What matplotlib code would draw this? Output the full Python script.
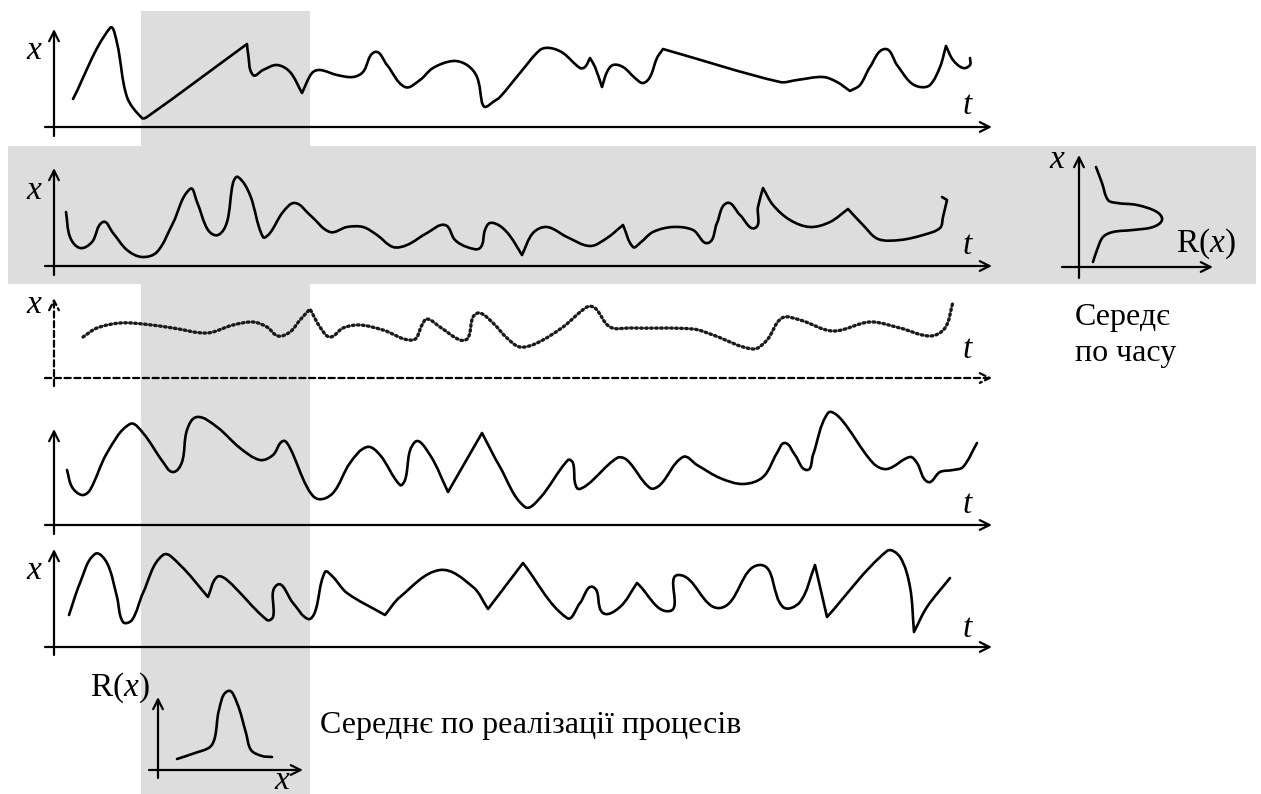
import numpy as np
import matplotlib.pyplot as plt
from matplotlib.path import Path
from matplotlib.patches import PathPatch

plt.rcParams['font.family'] = ['Liberation Serif', 'DejaVu Serif']
plt.rcParams['mathtext.fontset'] = 'custom'
plt.rcParams['mathtext.rm'] = 'Liberation Serif'
plt.rcParams['mathtext.it'] = 'Liberation Serif:italic'

W, H = 1261, 794
GRAY = '#dddddd'

# realisations x(t): t positions and heights above the t axis
t1 = [73, 110, 117, 127, 142, 147, 247, 248, 253, 263, 277, 290, 302, 312, 320, 337,
      353, 363, 375, 387, 405, 420, 433, 453, 467, 477, 482, 485, 493, 500, 520, 540,
      550, 563, 580, 585, 590, 595, 602, 607, 613, 623, 635, 643, 650, 657, 663, 780,
      797, 823, 837, 850, 860, 870, 885, 897, 910, 920, 930, 940, 946, 953, 963, 970, 970]
x1 = [28, 99, 84, 30, 9, 10, 83, 74, 52, 57, 62, 55, 34, 54, 57, 52,
      50, 55, 75, 62, 40, 47, 59, 66, 62, 50, 24, 20, 25, 30, 54, 77,
      79, 74, 59, 60, 69, 60, 40, 55, 62, 60, 49, 44, 50, 69, 78, 45,
      47, 50, 45, 36, 42, 60, 78, 62, 45, 40, 42, 60, 81, 67, 59, 62, 69]

t2 = [66, 70, 80, 92, 103, 113, 127, 142, 157, 173, 190, 197, 208, 218, 227, 233,
      238, 250, 263, 270, 283, 295, 310, 330, 347, 363, 377, 393, 407, 427, 445, 455,
      467, 480, 485, 490, 500, 510, 522, 533, 547, 567, 590, 607, 623, 633, 640, 653,
      673, 693, 708, 717, 727, 740, 755, 758, 763, 773, 790, 810, 830, 848, 863, 878,
      900, 923, 940, 943, 947, 942]
x2 = [54, 29, 18, 24, 44, 33, 16, 9, 14, 43, 77, 64, 36, 31, 44, 83,
      89, 71, 29, 33, 54, 63, 51, 34, 39, 39, 31, 19, 21, 33, 41, 26,
      19, 18, 36, 43, 40, 30, 11, 33, 39, 29, 20, 28, 41, 19, 23, 34,
      39, 36, 23, 43, 63, 51, 38, 59, 78, 61, 46, 39, 44, 57, 41, 27,
      26, 31, 38, 49, 66, 69]

t3 = [83, 97, 120, 143, 173, 207, 233, 253, 267, 278, 290, 300, 310, 320, 330, 343,
      360, 383, 413, 422, 427, 440, 460, 468, 473, 480, 493, 507, 520, 537, 563, 587,
      595, 610, 630, 693, 713, 753, 767, 782, 800, 833, 870, 900, 930, 945, 953]
x3 = [41, 50, 55, 54, 50, 45, 53, 56, 51, 42, 46, 58, 69, 51, 41, 50,
      53, 48, 38, 53, 59, 51, 38, 40, 61, 65, 55, 40, 31, 35, 51, 71,
      70, 51, 50, 49, 43, 29, 38, 60, 58, 47, 56, 50, 42, 50, 76]

t4 = [67, 72, 82, 90, 107, 130, 143, 163, 173, 182, 187, 197, 217, 240, 260, 273,
      283, 290, 307, 318, 333, 350, 367, 380, 400, 405, 415, 430, 448, 482, 500, 525,
      540, 568, 573, 577, 587, 617, 627, 650, 660, 683, 697, 720, 743, 763, 777, 785,
      795, 807, 813, 828, 840, 873, 887, 910, 917, 928, 940, 953, 963, 977]
x4 = [55, 38, 30, 35, 72, 101, 92, 63, 53, 63, 95, 108, 98, 77, 65, 70,
      84, 77, 38, 26, 32, 62, 78, 70, 40, 45, 83, 70, 33, 92, 58, 18,
      27, 65, 62, 37, 40, 67, 65, 37, 40, 68, 60, 47, 41, 48, 72, 82,
      70, 55, 70, 112, 107, 62, 56, 68, 62, 43, 53, 55, 58, 82]

t5 = [69, 80, 95, 107, 117, 123, 132, 143, 163, 180, 208, 217, 227, 267, 273, 277,
      293, 308, 315, 325, 333, 347, 385, 400, 440, 473, 488, 523, 567, 580, 593, 603,
      620, 637, 670, 678, 720, 760, 783, 800, 815, 827, 887, 900, 910, 914, 927, 950]
x5 = [32, 64, 93, 84, 50, 25, 27, 54, 92, 82, 50, 70, 67, 27, 30, 62,
      44, 28, 35, 75, 70, 54, 32, 50, 77, 60, 38, 84, 29, 44, 60, 34,
      40, 64, 36, 72, 39, 82, 40, 45, 82, 30, 96, 90, 60, 15, 40, 69]

# t positions where a trace has a kink instead of a smooth turn
kinks1 = [247, 302, 482, 590, 602, 663, 850, 946]
kinks2 = [522, 623, 763, 848, 947]
kinks3 = [310, 953]
kinks4 = [448, 482]
kinks5 = [208, 385, 488, 523, 637, 815, 827, 914]

# distributions R(x)
r_time = [17, 23, 29, 38, 58, 78, 83, 74, 54, 34, 24, 18, 14]
x_time = [100, 84, 67, 64, 62, 55, 47, 40, 37, 35, 30, 17, 5]
x_ens = [19, 37, 52, 57, 61, 70, 79, 88, 93, 104, 114]
r_ens = [11, 17, 23, 33, 60, 79, 67, 37, 20, 14, 13]

fig = plt.figure(figsize=(W / 100, H / 100), dpi=100)
ax = fig.add_axes([0, 0, 1, 1])
ax.set_xlim(0, W)
ax.set_ylim(H, 0)
ax.axis('off')

# shaded strips
ax.add_patch(plt.Rectangle((141, 11), 169, H - 11, color=GRAY, lw=0, zorder=0))
ax.add_patch(plt.Rectangle((8, 146), 1248, 138, color=GRAY, lw=0, zorder=0))


def unit(d):
    L = np.hypot(*d)
    return d / L if L > 0 else d * 0


def smooth_path(xs, ys, kinks=()):
    # bezier path through the points, tangents from the neighbours
    p = np.column_stack([xs, ys]).astype(float)
    n = len(p)
    t_in = np.zeros_like(p)
    t_out = np.zeros_like(p)
    for i in range(n):
        a, b = p[max(i - 1, 0)], p[min(i + 1, n - 1)]
        if xs[i] in kinks and 0 < i < n - 1:
            t_in[i] = unit(p[i] - a)
            t_out[i] = unit(b - p[i])
        else:
            t_in[i] = t_out[i] = unit(b - a)
    verts = [p[0]]
    codes = [Path.MOVETO]
    for i in range(n - 1):
        seg = np.hypot(*(p[i + 1] - p[i])) / 3
        verts += [p[i] + t_out[i] * seg, p[i + 1] - t_in[i + 1] * seg, p[i + 1]]
        codes += [Path.CURVE4] * 3
    return Path(verts, codes)


def curve(xs, ys, kinks=(), **kw):
    ax.add_patch(PathPatch(smooth_path(xs, ys, kinks), fill=False, capstyle='round',
                           joinstyle='round', **kw))


def arrow(x0, y0, x1, y1, ls='-'):
    ax.annotate('', xy=(x1, y1), xytext=(x0, y0),
                arrowprops=dict(arrowstyle='->,head_length=0.7,head_width=0.35',
                                lw=1.6, color='black', linestyle=ls,
                                shrinkA=0, shrinkB=0))


def italic(x, y, s):
    ax.text(x, y, s, fontsize=24, style='italic', ha='center', va='center')


panels = [(127, 29, 136, t1, x1, kinks1, True), (266, 168, 275, t2, x2, kinks2, True),
          (378, 298, 386, t3, x3, kinks3, True), (525, 429, 534, t4, x4, kinks4, False),
          (647, 549, 655, t5, x5, kinks5, True)]
label_y = [51, 191, 305, None, 571]
t_y = [106, 246, 350, 505, 629]

for i, (base, top, bottom, tt, xx, kk, has_x) in enumerate(panels):
    ls = (0, (2.8, 1.6)) if i == 2 else '-'
    arrow(45, base, 992, base, ls)
    arrow(54, bottom, 54, top, ls)
    ys = [base - v for v in xx]
    if i == 2:
        curve(tt, ys, kk, edgecolor='#1a1a1a', lw=2.4, linestyle=(0, (0.5, 1.0)))
    else:
        curve(tt, ys, kk, edgecolor='black', lw=1.9)
    if has_x:
        italic(34, label_y[i], 'x')
    italic(967, t_y[i], 't')

# time-average distribution
arrow(1079, 278, 1079, 155)
arrow(1062, 267, 1213, 267)
curve([1079 + r for r in r_time], [267 - v for v in x_time], edgecolor='black', lw=1.9)
italic(1057, 160, 'x')
ax.text(1206, 244, r'$\mathrm{R}(x)$', fontsize=24, ha='center', va='center')
ax.text(1075, 318, 'Середє', fontsize=23, ha='left', va='center')
ax.text(1075, 353, 'по часу', fontsize=23, ha='left', va='center')

# ensemble-average distribution
arrow(158, 778, 158, 697)
arrow(149, 770, 303, 770)
curve([158 + v for v in x_ens], [770 - r for r in r_ens], edgecolor='black', lw=1.9)
ax.text(120, 688, r'$\mathrm{R}(x)$', fontsize=24, ha='center', va='center')
italic(282, 781, 'x')
ax.text(320, 726, 'Середнє по реалізації процесів', fontsize=23, ha='left', va='center')

fig.savefig('out.png', dpi=100)
